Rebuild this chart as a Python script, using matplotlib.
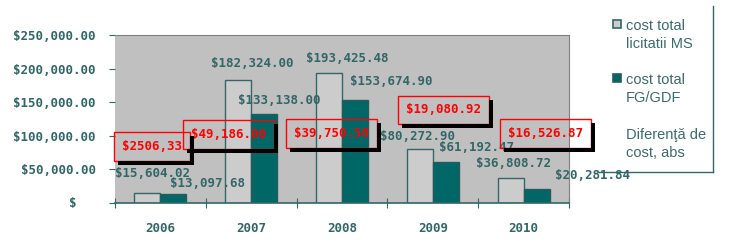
import numpy as np
import matplotlib
matplotlib.use('Agg')
import matplotlib.pyplot as plt
from matplotlib.patches import Rectangle
from matplotlib.lines import Line2D

## data
years       = ['2006', '2007', '2008', '2009', '2010']
cost_ms     = [15604.02, 182324.00, 193425.48, 80272.90, 36808.72]
cost_fg     = [13097.68, 133138.00, 153674.90, 61192.47, 20281.84]
diff_labels = ['$2506,33', '$49,186.00', '$39,750.58', '$19,080.92', '$16,526.87']
yticks      = [0, 50000, 100000, 150000, 200000, 250000]
legend_lbls = [['cost total', 'licitatii MS'], ['cost total', 'FG/GDF'],
               ['Diferen\u0163\u0103 de', 'cost, abs']]

## label placement (pixels / data units)
ms_off   = [(5, 19), (14, 17), (18, 15), (-2, 13), (3, 15)]
fg_off   = [(34, 11), (15, 13), (36, 18), (31, 14), (56, 14)]
diff_dx  = [-0.09, -0.25, -0.115, 0.12, 0.24]
diff_y   = [84000, 102000, 103500, 138500, 103500]

## styles
teal     = '#336666'
dark     = '#006666'
light    = '#cccccc'
bg       = '#c0c0c0'
mono     = dict(family='DejaVu Sans Mono', weight='bold', size=9)

W, H = 730, 247
fig = plt.figure(figsize=(W / 100., H / 100.), dpi=100)
ax  = fig.add_axes([115. / W, (H - 203.) / H, 454. / W, 168. / H])
ax.set_facecolor(bg)

x  = np.arange(len(years))
bw = 0.286
ax.bar(x - bw / 2, cost_ms, bw, color=light, edgecolor=teal, linewidth=1, zorder=2)
ax.bar(x + bw / 2, cost_fg, bw, color=dark, edgecolor='#2a5a5a', linewidth=1, zorder=2)

ax.set_xlim(-0.5, len(years) - 0.5)
ax.set_ylim(0, 250000)

## axes / ticks
for s in ['top', 'right']:
    ax.spines[s].set_color('#808080')
ax.spines['left'].set_visible(False)
ax.spines['bottom'].set_color(teal)
ax.spines['bottom'].set_linewidth(1.2)

ax.set_xticks(np.arange(-0.5, len(years), 1.0))
ax.set_xticklabels([])
ax.set_xticks(x, minor=True)
ax.set_xticklabels(years, minor=True, color=teal, **mono)
ax.tick_params(axis='x', which='major', direction='inout', length=7, color=teal)
ax.tick_params(axis='x', which='minor', length=0, pad=14)

ax.set_yticks(yticks)
ax.set_yticklabels(['' if v == 0 else '${:,.2f}'.format(v) for v in yticks],
                   color=teal, **mono)
ax.tick_params(axis='y', direction='out', length=4, color=teal, pad=10)
ax.annotate('$', xy=(0, 0), xycoords=('axes fraction', 'data'), xytext=(-42, 0),
            textcoords='offset pixels', ha='center', va='center', color=teal,
            annotation_clip=False, **mono)

## value labels
for i in range(len(years)):
    ax.annotate('${:,.2f}'.format(cost_ms[i]), xy=(x[i] - bw / 2, cost_ms[i]),
                xytext=ms_off[i], textcoords='offset pixels', ha='center',
                va='center', color=teal, zorder=6, annotation_clip=False, **mono)
    ax.annotate('${:,.2f}'.format(cost_fg[i]), xy=(x[i] + bw / 2, cost_fg[i]),
                xytext=fg_off[i], textcoords='offset pixels', ha='center',
                va='center', color=teal, zorder=6, annotation_clip=False, **mono)

## difference boxes
boxes = []
for i in range(len(years)):
    t = ax.text(x[i] + diff_dx[i], diff_y[i], diff_labels[i], ha='center',
                va='center', color='red', zorder=7, clip_on=False,
                bbox=dict(boxstyle='square,pad=0.62', fc='none', ec='red', lw=1),
                **mono)
    boxes.append(t)

## black drop shadow (right + bottom strips), in figure coords
fig.canvas.draw()
inv = fig.transFigure.inverted()
for t in boxes:
    bb = t.get_bbox_patch().get_window_extent()
    for (px, py, pw, ph) in [(bb.x0 + 4, bb.y0 - 4, bb.width, 4),
                             (bb.x1, bb.y0 - 4, 4, bb.height)]:
        (a0, b0) = inv.transform((px, py))
        (a1, b1) = inv.transform((px + pw, py + ph))
        fig.add_artist(Rectangle((a0, b0), a1 - a0, b1 - b0, facecolor='black',
                                 edgecolor='none', transform=fig.transFigure,
                                 zorder=5))

## legend (drawn by hand, frame only right/bottom)
def fx(px):
    return px / float(W)

def fy(py):
    return 1 - py / float(H)

fig.add_artist(Line2D([fx(713), fx(713)], [fy(6), fy(172)], color=teal, lw=1))
fig.add_artist(Line2D([fx(598), fx(713)], [fy(172), fy(172)], color=teal, lw=1))

markers = [(light, teal), (dark, '#2a5a5a'), None]
base    = [30, 84, 139]
for k, lines in enumerate(legend_lbls):
    if markers[k] is not None:
        fc, ec = markers[k]
        fig.add_artist(Rectangle((fx(612.5), fy(base[k] - 2)), fx(8), 8. / H,
                                 facecolor=fc, edgecolor=ec, lw=1.2))
    for j, s in enumerate(lines):
        fig.text(fx(626), fy(base[k] + 18 * j), s, ha='left', va='baseline',
                 color='#3d6b6b', family='Liberation Sans', size=10.5)

fig.savefig('out.png', dpi=100)
